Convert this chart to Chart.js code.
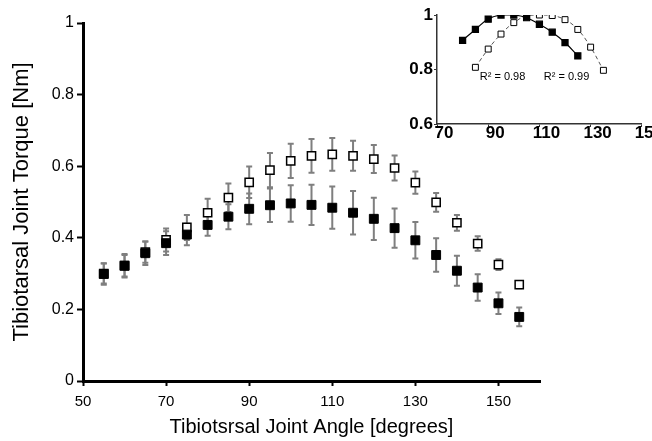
<!DOCTYPE html>
<html>
<head>
<meta charset="utf-8">
<script src="https://cdn.jsdelivr.net/npm/chart.js@4.4.1/dist/chart.umd.min.js"></script>
<style>
  html, body { margin: 0; padding: 0; background: #fff; }
  #wrap { position: relative; width: 652px; height: 441px; }
  #main { position: absolute; left: 0; top: 0; }
  #inset { position: absolute; left: 395px; top: 0; }
</style>
</head>
<body>
<div id="wrap">
  <canvas id="main" width="652" height="441"></canvas>
  <canvas id="inset" width="257" height="145"></canvas>
</div>
<script>
// main plot: torque vs angle, mean +/- error
const angles = [55, 60, 65, 70, 75, 80, 85, 90, 95, 100, 105, 110, 115, 120, 125, 130, 135, 140, 145, 150, 155];
const filledTorque = [0.299, 0.322, 0.357, 0.385, 0.409, 0.436, 0.459, 0.481, 0.491, 0.496, 0.492, 0.484, 0.470, 0.453, 0.427, 0.393, 0.352, 0.308, 0.261, 0.217, 0.179];
const filledErr = [0.030, 0.033, 0.033, 0.033, 0.030, 0.030, 0.035, 0.043, 0.047, 0.051, 0.056, 0.059, 0.061, 0.059, 0.055, 0.051, 0.047, 0.042, 0.037, 0.030, 0.026];
const openTorque = [0.300, 0.322, 0.360, 0.394, 0.429, 0.470, 0.512, 0.555, 0.589, 0.615, 0.629, 0.633, 0.629, 0.620, 0.595, 0.554, 0.499, 0.442, 0.384, 0.325, 0.269];
const openErr = [0.028, 0.030, 0.030, 0.032, 0.035, 0.039, 0.040, 0.044, 0.048, 0.048, 0.047, 0.046, 0.042, 0.039, 0.035, 0.031, 0.026, 0.022, 0.020, 0.015, 0.010];
const xTicks = [50, 70, 90, 110, 130, 150];
const yTicks = [0, 0.2, 0.4, 0.6, 0.8, 1];

// inset: normalised torque
const insetFilledAngles = [80, 85, 90, 95, 100, 105, 110, 115, 120, 125];
const insetFilled = [0.907, 0.947, 0.985, 1.0, 1.0, 0.99, 0.966, 0.937, 0.899, 0.850];
const insetOpenAngles = [85, 90, 95, 100, 105, 110, 115, 120, 125, 130, 135];
const insetOpen = [0.808, 0.875, 0.930, 0.972, 0.997, 1.0, 0.998, 0.983, 0.947, 0.882, 0.797];
const insetXTicks = [70, 90, 110, 130, 150];
const insetYTicks = [0.6, 0.8, 1];
const fitLabels = ["R\u00b2 = 0.98", "R\u00b2 = 0.99"];
const fitLabelAt = [[86.7, 0.774], [111.7, 0.774]];

const FONT = "'Liberation Sans', Arial, sans-serif";

function pts(xs, ys) {
  return xs.map((x, i) => ({ x: x, y: ys[i] }));
}
const plain = (v) => String(v);

const errorBars = {
  id: "errorBars",
  beforeDatasetsDraw(chart) {
    const { ctx, scales: { x, y } } = chart;
    ctx.save();
    ctx.strokeStyle = "#7f7f7f";
    ctx.lineWidth = 2;
    chart.data.datasets.forEach((ds) => {
      if (!ds.errors) return;
      ds.data.forEach((p, i) => {
        const px = x.getPixelForValue(p.x);
        const top = y.getPixelForValue(p.y + ds.errors[i]);
        const bot = y.getPixelForValue(p.y - ds.errors[i]);
        ctx.beginPath();
        ctx.moveTo(px, top); ctx.lineTo(px, bot);
        ctx.moveTo(px - 3, top); ctx.lineTo(px + 3, top);
        ctx.moveTo(px - 3, bot); ctx.lineTo(px + 3, bot);
        ctx.stroke();
      });
    });
    ctx.restore();
  },
};

new Chart(document.getElementById("main"), {
  type: "scatter",
  data: {
    datasets: [
      {
        data: pts(angles, filledTorque),
        errors: filledErr,
        pointStyle: "rect",
        pointRadius: 6.3,
        backgroundColor: "#000",
        borderColor: "#000",
        borderWidth: 1,
        order: 0,
      },
      {
        data: pts(angles, openTorque),
        errors: openErr,
        pointStyle: "rect",
        pointRadius: 5.8,
        backgroundColor: "#fff",
        borderColor: "#000",
        borderWidth: 1.5,
        order: 1,
      },
    ],
  },
  options: {
    responsive: false,
    animation: false,
    layout: { padding: { top: 23, right: 112, left: 0, bottom: 0 } },
    plugins: { legend: { display: false }, tooltip: { enabled: false } },
    scales: {
      x: {
        type: "linear",
        min: 50,
        max: 160,
        afterBuildTicks: (s) => { s.ticks = xTicks.map((v) => ({ value: v })); },
        afterFit: (s) => { s.height = 60; },
        grid: { drawOnChartArea: false, tickLength: 5, tickColor: "#000", tickWidth: 2 },
        border: { color: "#000", width: 3 },
        ticks: { color: "#000", font: { family: FONT, size: 15 }, padding: 7, maxRotation: 0, callback: plain },
        title: {
          display: true,
          text: "Tibiotsrsal Joint Angle [degrees]",
          color: "#000",
          font: { family: FONT, size: 20 },
          padding: { top: 0, bottom: 2 },
        },
      },
      y: {
        min: 0,
        max: 1,
        afterBuildTicks: (s) => { s.ticks = yTicks.map((v) => ({ value: v })); },
        afterFit: (s) => { s.width = 83; },
        grid: { drawOnChartArea: false, tickLength: 6, tickColor: "#000", tickWidth: 2 },
        border: { color: "#000", width: 3 },
        ticks: { color: "#000", font: { family: FONT, size: 16 }, padding: 3, callback: plain },
        title: {
          display: true,
          text: "Tibiotarsal Joint Torque [Nm]",
          color: "#000",
          font: { family: FONT, size: 22 },
          padding: 9,
        },
      },
    },
  },
  plugins: [errorBars],
});

const fitText = {
  id: "fitText",
  afterDatasetsDraw(chart) {
    const { ctx, scales: { x, y } } = chart;
    ctx.save();
    ctx.fillStyle = "#000";
    ctx.font = "11px " + FONT;
    ctx.textBaseline = "middle";
    fitLabels.forEach((t, i) => {
      ctx.fillText(t, x.getPixelForValue(fitLabelAt[i][0]), y.getPixelForValue(fitLabelAt[i][1]));
    });
    ctx.restore();
  },
};

new Chart(document.getElementById("inset"), {
  type: "line",
  data: {
    datasets: [
      {
        data: pts(insetFilledAngles, insetFilled),
        pointStyle: "rect",
        pointRadius: 4.3,
        pointBackgroundColor: "#000",
        pointBorderColor: "#000",
        borderColor: "#000",
        borderWidth: 1.2,
        tension: 0.4,
        order: 0,
      },
      {
        data: pts(insetOpenAngles, insetOpen),
        pointStyle: "rect",
        pointRadius: 4.2,
        pointBackgroundColor: "#fff",
        pointBorderColor: "#000",
        pointBorderWidth: 1,
        borderColor: "#555",
        borderWidth: 1,
        borderDash: [4, 3],
        tension: 0.4,
        order: 1,
      },
    ],
  },
  options: {
    responsive: false,
    animation: false,
    layout: { padding: { top: 15, right: 6, left: 0, bottom: 0 } },
    plugins: { legend: { display: false }, tooltip: { enabled: false } },
    scales: {
      x: {
        type: "linear",
        min: 70,
        max: 150,
        afterBuildTicks: (s) => { s.ticks = insetXTicks.map((v) => ({ value: v })); },
        afterFit: (s) => { s.height = 21; },
        grid: { drawOnChartArea: false, tickLength: 3, tickColor: "#333", tickWidth: 1 },
        border: { color: "#333", width: 1.5 },
        ticks: { color: "#000", font: { family: FONT, size: 17, weight: "bold" }, padding: -4, labelOffset: 7, maxRotation: 0, callback: plain },
      },
      y: {
        min: 0.6,
        max: 1,
        afterBuildTicks: (s) => { s.ticks = insetYTicks.map((v) => ({ value: v })); },
        afterFit: (s) => { s.width = 42; },
        grid: { drawOnChartArea: false, tickLength: 3, tickColor: "#333", tickWidth: 1 },
        border: { color: "#333", width: 1.5 },
        ticks: { color: "#000", font: { family: FONT, size: 17, weight: "bold" }, padding: 1, callback: plain },
      },
    },
  },
  plugins: [fitText],
});
</script>
</body>
</html>
